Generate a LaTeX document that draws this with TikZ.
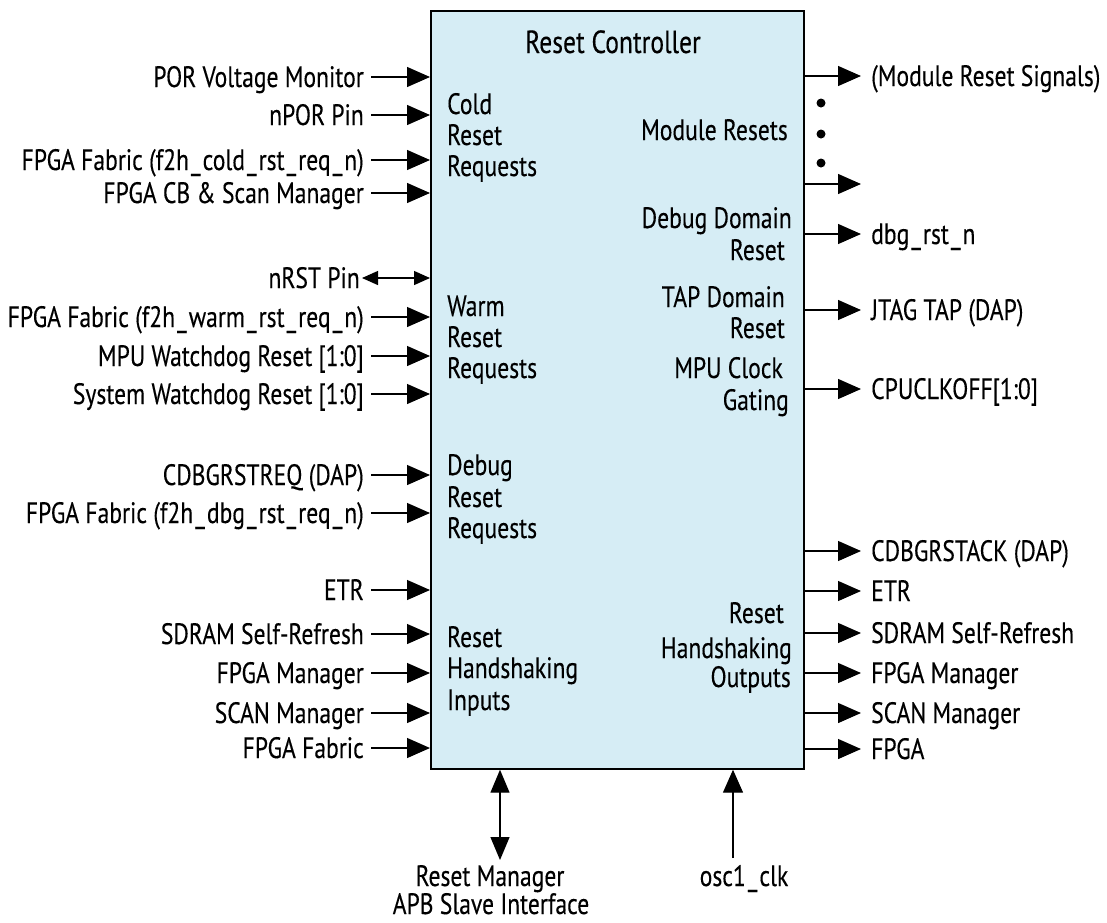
\documentclass[tikz,border=0pt]{standalone}
\usepackage{fontspec}
\setmainfont{PT Sans}[FakeStretch=0.8,FakeBold=0.25]
\usetikzlibrary{arrows.meta}
\definecolor{boxfill}{RGB}{214,237,245}
\newcommand{\us}{\kern2pt\_\kern2pt}
\begin{document}
\begin{tikzpicture}[x=1pt,y=-1pt,
  every node/.style={font=\fontsize{29.5}{31}\selectfont, inner sep=0pt},
  lbl/.style={text height=20pt, text depth=0pt},
  conn/.style={line width=1.3pt, -{Triangle[length=23pt,width=20pt]}},
  dconn/.style={line width=1.3pt, {Triangle[length=23pt,width=19pt]}-{Triangle[length=23pt,width=19pt]}},
  sconn/.style={line width=1.3pt, {Triangle[length=16pt,width=14pt]}-{Triangle[length=16pt,width=14pt]}},
  dot/.style={circle, fill=black, minimum size=9pt}
]
\useasboundingbox (0,0) rectangle (1107,922);

\node[draw, fill=boxfill, line width=1.7pt, minimum width=373pt, minimum height=758pt, anchor=north west] (box) at (430,10) {};
\node[anchor=base, font=\fontsize{32}{34}\selectfont] (title) at (613,53) {Reset Controller};

% left inputs
\foreach \n/\y/\t in {i1/77/POR Voltage Monitor, i2/115/nPOR Pin, i3/160/FPGA Fabric (f2h\us cold\us rst\us req\us n), i4/193/FPGA CB \& Scan Manager,
  i6/317/FPGA Fabric (f2h\us warm\us rst\us req\us n), i7/356/MPU Watchdog Reset [1:0], i8/394/System Watchdog Reset [1:0],
  i9/475/CDBGRSTREQ (DAP), i10/513/FPGA Fabric (f2h\us dbg\us rst\us req\us n),
  i11/590/ETR, i12/634/SDRAM Self-Refresh, i13/673/FPGA Manager, i14/713/SCAN Manager, i15/748/FPGA Fabric}{
  \node[lbl, anchor=east] (\n) at (364,\y) {\t};
  \draw[conn] ([xshift=7pt]\n.east) -- (\n.east -| box.west);
}
\node[lbl, anchor=east] (i5) at (360,278) {nRST Pin};
\draw[sconn] ([xshift=2pt]i5.east) -- (i5.east -| box.west);

% right outputs
\foreach \n/\y/\t in {o1/76/(Module Reset Signals), o3/234/dbg\us rst\us n, o4/310/JTAG TAP (DAP), o5/389/CPUCLKOFF[1:0],
  o6/551/CDBGRSTACK (DAP), o7/591/ETR, o8/633/SDRAM Self-Refresh, o9/673/FPGA Manager, o10/713/SCAN Manager, o11/749/FPGA}{
  \node[lbl, anchor=west] (\n) at (871,\y) {\t};
  \draw[conn] (box.east |- \n.west) -- ([xshift=-10pt]\n.west);
}
\coordinate (o2) at (861,184);
\draw[conn] (box.east |- o2) -- (o2);
\node[dot] (d1) at (821,103) {};
\node[dot] (d2) at (821,134) {};
\node[dot] (d3) at (821,163) {};

% inner left texts
\node[anchor=base west] (a1) at (447,114) {Cold};
\node[anchor=base west] (a2) at (447,145) {Reset};
\node[anchor=base west] (a3) at (447,176) {Requests};
\node[anchor=base west] (b1) at (447,316) {Warm};
\node[anchor=base west] (b2) at (447,347) {Reset};
\node[anchor=base west] (b3) at (447,378) {Requests};
\node[anchor=base west] (c1) at (447,475) {Debug};
\node[anchor=base west] (c2) at (447,507) {Reset};
\node[anchor=base west] (c3) at (447,538) {Requests};
\node[anchor=base west] (e1) at (447,647) {Reset};
\node[anchor=base west] (e2) at (447,678) {Handshaking};
\node[anchor=base west] (e3) at (447,710) {Inputs};

% inner right texts
\node[anchor=base east] (m1) at (788,140) {Module Resets};
\node[anchor=base east] (f1) at (792,228) {Debug Domain};
\node[anchor=base east] (f2) at (785,260) {Reset};
\node[anchor=base east] (g1) at (785,307) {TAP Domain};
\node[anchor=base east] (g2) at (785,338) {Reset};
\node[anchor=base east] (h1) at (783,378) {MPU Clock};
\node[anchor=base east] (h2) at (789,410) {Gating};
\node[anchor=base east] (k1) at (784,623) {Reset};
\node[anchor=base east] (k2) at (792,658) {Handshaking};
\node[anchor=base east] (k3) at (791,687) {Outputs};

% bottom
\node[anchor=base] (rm1) at (490,886) {Reset Manager};
\node[anchor=base] (rm2) at (491,914) {APB Slave Interface};
\node[anchor=base] (osc) at (744,886) {osc1\us clk};
\coordinate (apb) at (500,860);
\coordinate (oscend) at (733,858);
\draw[dconn] (apb) -- (apb |- box.south);
\draw[conn] (oscend) -- (oscend |- box.south);
\end{tikzpicture}
\end{document}
